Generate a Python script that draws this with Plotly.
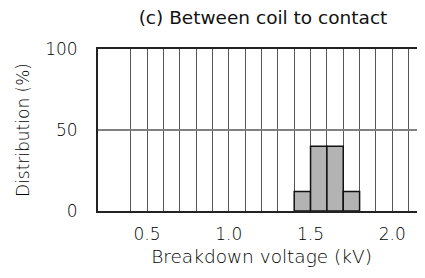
import plotly.graph_objects as go

# Data
bin_centers = [1.45, 1.55, 1.65, 1.75]
distribution = [12, 40, 40, 12]
bin_width = 0.1
grid_vals = [round(0.4 + 0.1 * i, 1) for i in range(18)]
x_labels = {0.5: "0.5", 1.0: "1.0", 1.5: "1.5", 2.0: "2.0"}
y_ticks = [0, 50, 100]

FONT = "DejaVu Sans"
TXT = "#000000"

fig = go.Figure()
fig.add_trace(go.Bar(
    x=bin_centers, y=distribution, width=bin_width,
    marker=dict(color="#b3b3b3", line=dict(color="#111111", width=1.5)),
))

fig.update_layout(
    width=417, height=270,
    margin=dict(l=90, r=0, t=41, b=67),
    plot_bgcolor="white", paper_bgcolor="white",
    showlegend=False,
    title=dict(text="(c) Between coil to contact", x=0.6115, xanchor="center",
               y=0.963, yanchor="middle",
               font=dict(family=FONT, size=18.5, color="#111", weight=500)),
    font=dict(family=FONT, color=TXT, weight=300),
    xaxis=dict(
        range=[0.2, 2.2],
        tickmode="array", tickvals=grid_vals,
        ticktext=[x_labels.get(v, "") for v in grid_vals],
        showgrid=True, gridcolor="#555555", gridwidth=1,
        showline=True, linecolor="#222", linewidth=2, mirror=True,
        ticks="", ticklabelstandoff=7,
        tickfont=dict(size=17, color=TXT, weight=300),
        title=dict(text="Breakdown voltage (kV)",
                   font=dict(size=18.5, color=TXT, weight=300), standoff=7),
        zeroline=False, automargin=True,
    ),
    yaxis=dict(
        range=[0, 100],
        tickmode="array", tickvals=y_ticks,
        showgrid=True, gridcolor="#808080", gridwidth=1.5,
        showline=True, linecolor="#222", linewidth=2,
        ticks="", ticklabelstandoff=15,
        tickfont=dict(size=17, color=TXT, weight=300),
        title=dict(text="Distribution (%)",
                   font=dict(size=17, color=TXT, weight=300), standoff=11),
        zeroline=False, automargin=True,
    ),
)

fig.write_html("out.html")
